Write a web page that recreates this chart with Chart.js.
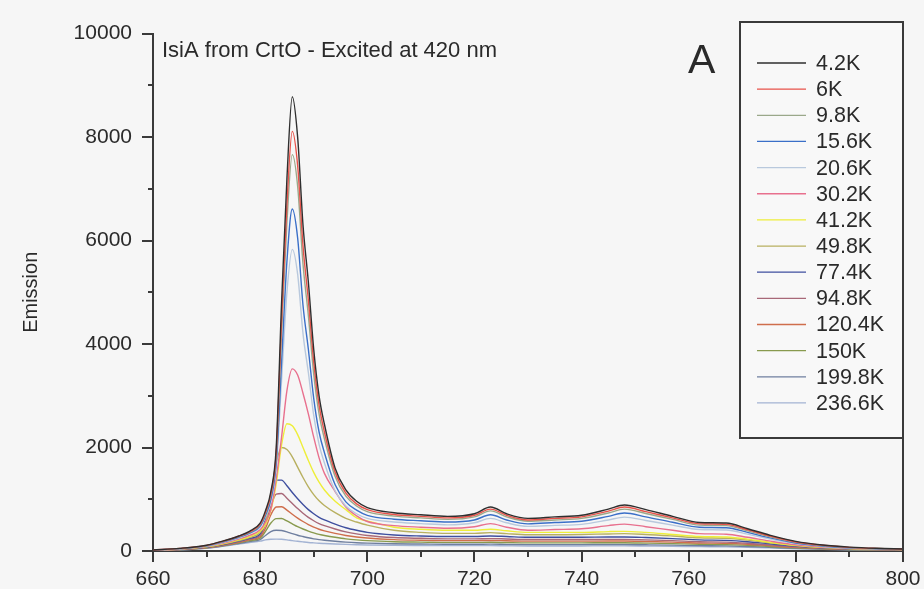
<!DOCTYPE html>
<html lang="en">
<head>
    <meta charset="utf-8">
    <script src="https://cdn.jsdelivr.net/npm/chart.js"></script>
    <style>
        body {
            margin: 0;
            padding: 0;
            background-color: #f6f6f6;
        }
        #spectra {
            display: block;
        }
    </style>
</head>
<body>
    <canvas id="spectra" width="924" height="589"></canvas>
    <script>
        // Wavelength grid (nm), finer around the 686 nm band
        const wavelengths = [660, 665, 670, 673, 676, 678, 680, 681, 682, 683, 684, 685, 686, 687, 688, 689, 690, 691, 692, 694, 696, 698, 700,
            705, 710, 715, 720, 723, 726, 730, 735, 740, 745, 748, 752, 757, 762, 767, 771, 775, 780, 785, 790, 795, 800];

        const temperatures = ['4.2K', '6K', '9.8K', '15.6K', '20.6K', '30.2K', '41.2K', '49.8K', '77.4K', '94.8K', '120.4K', '150K', '199.8K', '236.6K'];
        const lineColors = ['#2f2f2f', '#e8524a', '#9aa88a', '#3a6fc8', '#b9c9dd', '#e8708e', '#eeee3a', '#b8b060',
            '#3f4f9f', '#a86878', '#cf6e4c', '#889a4e', '#6f7f9f', '#a3b3d3'];

        // Emission per temperature, one value per wavelength
        const em4_2 = [20, 50, 110, 190, 290, 380, 540, 780, 1150, 2000, 4800, 7200, 8780, 8000, 6300, 5200, 3900, 3000, 2450, 1600, 1180, 960, 840,
            740, 700, 670, 720, 850, 720, 630, 660, 690, 810, 890, 800, 670, 550, 540, 430, 310, 185, 115, 75, 52, 40];
        const em6 = [20, 50, 108, 185, 285, 370, 520, 750, 1100, 1900, 4450, 6700, 8110, 7450, 5900, 4850, 3650, 2820, 2300, 1520, 1120, 910, 800,
            705, 670, 640, 690, 810, 690, 600, 630, 660, 770, 850, 760, 640, 525, 515, 410, 295, 175, 110, 70, 50, 38];
        const em9_8 = [18, 48, 104, 180, 278, 360, 505, 730, 1070, 1850, 4200, 6350, 7660, 7050, 5550, 4550, 3420, 2650, 2170, 1440, 1060, 870, 760,
            675, 640, 612, 660, 775, 660, 575, 600, 630, 735, 810, 725, 610, 500, 490, 390, 280, 168, 105, 66, 47, 36];
        const em15_6 = [18, 45, 100, 172, 265, 345, 480, 690, 1000, 1700, 3650, 5600, 6610, 6050, 4750, 3900, 2950, 2300, 1900, 1280, 950, 790, 690,
            615, 585, 560, 600, 700, 600, 525, 550, 575, 670, 735, 660, 555, 460, 450, 360, 258, 155, 96, 61, 44, 34];
        const em20_6 = [16, 42, 95, 162, 250, 330, 460, 660, 950, 1600, 3300, 5000, 5830, 5350, 4200, 3450, 2620, 2060, 1700, 1160, 870, 720, 630,
            560, 530, 505, 545, 630, 545, 475, 495, 515, 600, 655, 590, 500, 415, 405, 325, 235, 142, 88, 56, 41, 32];
        const em30_2 = [15, 40, 90, 150, 232, 300, 410, 560, 800, 1400, 2200, 3100, 3520, 3400, 3050, 2650, 2200, 1800, 1500, 1150, 850, 680, 570,
            490, 460, 440, 470, 530, 460, 400, 415, 430, 490, 520, 470, 400, 335, 325, 265, 195, 120, 78, 52, 39, 30];
        const em41_2 = [15, 38, 85, 140, 215, 280, 380, 520, 780, 1300, 2050, 2460, 2420, 2250, 2000, 1750, 1520, 1330, 1180, 960, 800, 640, 580,
            460, 420, 400, 400, 420, 390, 360, 360, 360, 375, 380, 360, 320, 280, 270, 230, 170, 110, 70, 48, 36, 28];
        const em49_8 = [14, 36, 80, 132, 200, 260, 360, 560, 1100, 1700, 2000, 1960, 1820, 1620, 1420, 1240, 1090, 970, 880, 740, 630, 560, 500,
            400, 360, 340, 340, 355, 335, 315, 315, 320, 330, 335, 320, 290, 255, 245, 210, 160, 105, 68, 46, 35, 27];
        const em77_4 = [12, 34, 75, 125, 190, 245, 330, 620, 1050, 1370, 1370, 1260, 1130, 1010, 900, 800, 720, 650, 600, 520, 450, 400, 360,
            310, 290, 280, 280, 290, 280, 265, 265, 265, 270, 270, 260, 240, 215, 205, 180, 140, 95, 62, 42, 32, 25];
        const em94_8 = [12, 32, 70, 118, 180, 232, 300, 520, 860, 1100, 1110, 1020, 920, 820, 730, 650, 585, 530, 490, 425, 370, 330, 300,
            260, 245, 235, 235, 240, 232, 222, 222, 222, 225, 225, 215, 200, 180, 172, 150, 118, 80, 54, 37, 29, 23];
        const em120_4 = [11, 30, 66, 110, 168, 215, 275, 440, 700, 850, 855, 790, 710, 635, 570, 510, 460, 420, 390, 340, 300, 270, 250,
            220, 208, 200, 200, 204, 197, 190, 190, 190, 192, 192, 184, 172, 155, 148, 130, 103, 70, 48, 33, 26, 21];
        const em150 = [10, 28, 62, 104, 158, 200, 250, 380, 540, 625, 628, 580, 525, 470, 425, 385, 350, 320, 300, 265, 235, 215, 200,
            180, 172, 166, 166, 168, 163, 158, 158, 158, 160, 160, 153, 143, 130, 124, 110, 88, 60, 42, 30, 24, 19];
        const em199_8 = [9, 26, 58, 96, 146, 182, 220, 300, 375, 400, 395, 370, 335, 305, 280, 255, 235, 220, 208, 188, 172, 160, 152,
            140, 135, 130, 130, 132, 128, 124, 124, 124, 125, 125, 120, 113, 104, 99, 88, 72, 50, 36, 26, 21, 17];
        const em236_6 = [8, 24, 54, 90, 135, 165, 190, 215, 228, 230, 226, 215, 200, 188, 176, 165, 157, 150, 145, 136, 128, 122, 117,
            110, 106, 103, 103, 104, 101, 98, 98, 98, 99, 99, 95, 90, 84, 80, 72, 60, 43, 31, 23, 19, 15];

        const emissionSeries = [em4_2, em6, em9_8, em15_6, em20_6, em30_2, em41_2, em49_8, em77_4, em94_8, em120_4, em150, em199_8, em236_6];

        const xTicks = [660, 680, 700, 720, 740, 760, 780, 800];
        const yTicks = [0, 2000, 4000, 6000, 8000, 10000];

        const FONT = "'Liberation Sans', Arial, sans-serif";
        const AXIS = '#3a3a3a';

        // Minor/major tick marks, right frame line, inset text and the boxed legend
        const decorations = {
            id: 'decorations',
            afterDraw(chart) {
                const ctx = chart.ctx;
                const area = chart.chartArea;
                const xs = chart.scales.x;
                const ys = chart.scales.y;
                ctx.save();
                ctx.strokeStyle = AXIS;
                ctx.lineWidth = 2;
                ctx.beginPath();
                for (let v = 660; v <= 800; v += 10) {
                    const px = Math.round(xs.getPixelForValue(v));
                    const len = (v % 20 === 0) ? 11 : 6;
                    ctx.moveTo(px, area.bottom);
                    ctx.lineTo(px, area.bottom + len);
                }
                for (let v = 0; v <= 10000; v += 1000) {
                    const py = Math.round(ys.getPixelForValue(v));
                    const len = (v % 2000 === 0) ? 11 : 5;
                    ctx.moveTo(area.left, py);
                    ctx.lineTo(area.left - len, py);
                }
                // right frame
                ctx.moveTo(area.right, area.top - 2);
                ctx.lineTo(area.right, area.bottom + 8);
                ctx.stroke();

                // inset title and panel letter
                ctx.fillStyle = '#2a2a2a';
                ctx.textBaseline = 'alphabetic';
                ctx.textAlign = 'left';
                ctx.font = '22px ' + FONT;
                ctx.fillText('IsiA from CrtO - Excited at 420 nm', 162, 57);
                ctx.font = '41px ' + FONT;
                ctx.fillText('A', 688, 73);

                // legend box
                const boxL = 740, boxT = 22, boxR = area.right, boxB = 438;
                ctx.fillStyle = '#f8f8f8';
                ctx.fillRect(boxL, boxT, boxR - boxL, boxB - boxT);
                ctx.lineWidth = 2;
                ctx.strokeStyle = AXIS;
                ctx.strokeRect(boxL, boxT, boxR - boxL, boxB - boxT);
                ctx.font = '21.5px ' + FONT;
                ctx.textBaseline = 'middle';
                temperatures.forEach((t, i) => {
                    const y = 63 + i * 26.15;
                    ctx.strokeStyle = lineColors[i];
                    ctx.lineWidth = 1.3;
                    ctx.beginPath();
                    ctx.moveTo(757, y);
                    ctx.lineTo(806, y);
                    ctx.stroke();
                    ctx.fillStyle = '#2a2a2a';
                    ctx.fillText(t, 816, y + 1);
                });
                ctx.restore();
            }
        };

        const datasets = temperatures.map((t, i) => ({
            label: t,
            data: emissionSeries[i].map((v, j) => ({ x: wavelengths[j], y: v })),
            borderColor: lineColors[i],
            borderWidth: 1.4,
            pointRadius: 0,
            fill: false,
            cubicInterpolationMode: 'monotone'
        }));

        new Chart(document.getElementById('spectra').getContext('2d'), {
            type: 'line',
            data: { datasets: datasets },
            options: {
                responsive: false,
                animation: false,
                layout: { padding: { top: 24, right: 21, left: 0, bottom: 0 } },
                plugins: {
                    legend: { display: false },
                    tooltip: { enabled: false }
                },
                scales: {
                    x: {
                        type: 'linear',
                        min: 660,
                        max: 800,
                        afterBuildTicks: scale => { scale.ticks = xTicks.map(v => ({ value: v })); },
                        afterFit: scale => {
                            scale.height = 38;
                            scale.paddingLeft = 0;
                            scale.paddingRight = 0;
                        },
                        grid: { display: false, drawTicks: false },
                        border: { display: true, color: AXIS, width: 2 },
                        ticks: { padding: 16, color: '#2a2a2a', font: { family: FONT, size: 21 }, maxRotation: 0 }
                    },
                    y: {
                        min: 0,
                        max: 10000,
                        afterBuildTicks: scale => { scale.ticks = yTicks.map(v => ({ value: v })); },
                        afterFit: scale => { scale.width = 153; },
                        grid: { display: false, drawTicks: false },
                        border: { display: true, color: AXIS, width: 2 },
                        ticks: {
                            padding: 21,
                            color: '#2a2a2a',
                            font: { family: FONT, size: 21 },
                            callback: value => String(value)
                        },
                        title: {
                            display: true,
                            text: 'Emission',
                            color: '#2a2a2a',
                            font: { family: FONT, size: 20 },
                            padding: { top: 19, bottom: 0 }
                        }
                    }
                }
            },
            plugins: [decorations]
        });
    </script>
</body>
</html>
